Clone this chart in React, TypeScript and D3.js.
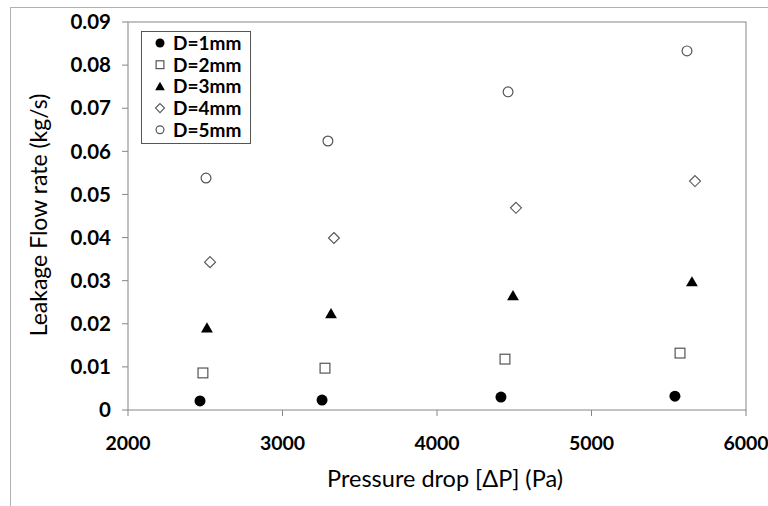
import React from "react";
import * as d3 from "d3";

const seriesNames = ["D=1mm", "D=2mm", "D=3mm", "D=4mm", "D=5mm"];
const pressureD1 = [2466, 3256, 4414, 5540];
const flowD1 = [0.0021, 0.0023, 0.003, 0.0032];
const pressureD2 = [2485, 3275, 4440, 5573];
const flowD2 = [0.0086, 0.0097, 0.0118, 0.0132];
const pressureD3 = [2511, 3314, 4492, 5650];
const flowD3 = [0.019, 0.0223, 0.0265, 0.0297];
const pressureD4 = [2531, 3333, 4511, 5670];
const flowD4 = [0.0343, 0.0399, 0.0469, 0.0531];
const pressureD5 = [2505, 3294, 4460, 5618];
const flowD5 = [0.0538, 0.0624, 0.0738, 0.0833];
const xTicks = [2000, 3000, 4000, 5000, 6000];
const yTicks = [0, 0.01, 0.02, 0.03, 0.04, 0.05, 0.06, 0.07, 0.08, 0.09];

const W = 768;
const H = 506;
const margin = { left: 128, right: 22, top: 22, bottom: 96 };
const FONT = "Lato, 'Open Sans', sans-serif";

type Kind = "dot" | "square" | "triangle" | "diamond" | "circle";
const kinds: Kind[] = ["dot", "square", "triangle", "diamond", "circle"];

function Marker({ kind, x, y, s }: { kind: Kind; x: number; y: number; s: number }) {
  const r = s / 2;
  if (kind === "dot") return <circle cx={x} cy={y} r={r} fill="#000" />;
  if (kind === "circle")
    return <circle cx={x} cy={y} r={r - 0.6} fill="#fff" stroke="#555" strokeWidth={1.2} />;
  if (kind === "square")
    return (
      <rect x={x - r + 0.6} y={y - r + 0.6} width={s - 1.2} height={s - 1.2} fill="#fff" stroke="#555" strokeWidth={1.2} />
    );
  if (kind === "triangle") {
    const p = d3.symbol().type(d3.symbolTriangle).size(s * s * 0.5)();
    return <path d={p || ""} transform={`translate(${x},${y + 1})`} fill="#000" />;
  }
  const p = `M${x},${y - r} L${x + r},${y} L${x},${y + r} L${x - r},${y} Z`;
  return <path d={p} fill="#fff" stroke="#555" strokeWidth={1.1} />;
}

export default function App() {
  const x = d3.scaleLinear().domain([2000, 6000]).range([margin.left, W - margin.right]);
  const y = d3.scaleLinear().domain([0, 0.09]).range([H - margin.bottom, margin.top]);
  const series = [
    { px: pressureD1, fy: flowD1 },
    { px: pressureD2, fy: flowD2 },
    { px: pressureD3, fy: flowD3 },
    { px: pressureD4, fy: flowD4 },
    { px: pressureD5, fy: flowD5 },
  ];
  const x0 = x(2000);
  const x1 = x(6000);
  const y0 = y(0);
  const y1 = y(0.09);
  const axisColor = "#868686";
  return (
    <svg width={W} height={H} style={{ position: "absolute", left: 0, top: 0, background: "#fff" }}>
      <rect x={0} y={0} width={W} height={H} fill="#fff" />
      {/* outer chart border */}
      <rect x={10.5} y={7.5} width={W + 20} height={H + 20} fill="none" stroke="#b0b0b0" strokeWidth={1} />
      {/* plot area border */}
      <rect x={x0} y={y1} width={x1 - x0} height={y0 - y1} fill="none" stroke={axisColor} strokeWidth={1} />
      {/* y ticks */}
      {yTicks.map((t) => (
        <g key={"y" + t}>
          <line x1={x0 - 6} x2={x0} y1={y(t)} y2={y(t)} stroke={axisColor} />
          <text
            x={111}
            y={y(t)}
            dy="0.35em"
            textAnchor="end"
            fontFamily={FONT}
            fontWeight="bold"
            fontSize={20.5}
            fill="#000"
          >
            {t === 0 ? "0" : d3.format(".2f")(t)}
          </text>
        </g>
      ))}
      {/* x ticks */}
      {xTicks.map((t) => (
        <g key={"x" + t}>
          <line x1={x(t)} x2={x(t)} y1={y0} y2={y0 + 6} stroke={axisColor} />
          <text x={x(t)} y={450} textAnchor="middle" fontFamily={FONT} fontWeight="bold" fontSize={19.5} fill="#000">
            {t}
          </text>
        </g>
      ))}
      {/* axis titles */}
      <text x={445} y={487} textAnchor="middle" fontFamily={FONT} fontSize={23.5} fill="#000">
        Pressure drop [ΔP] (Pa)
      </text>
      <text
        transform={`translate(47,${215}) rotate(-90)`}
        textAnchor="middle"
        fontFamily={FONT}
        fontSize={23}
        fill="#000"
      >
        Leakage Flow rate (kg/s)
      </text>
      {/* data */}
      {series.map((s, i) =>
        s.px.map((p, j) => <Marker key={`${i}-${j}`} kind={kinds[i]} x={x(p)} y={y(s.fy[j])} s={11} />)
      )}
      {/* legend */}
      <rect x={141.5} y={31.5} width={109} height={112} fill="#fff" stroke="#555" strokeWidth={1} />
      {seriesNames.map((n, i) => (
        <g key={n}>
          <Marker kind={kinds[i]} x={160} y={43 + i * 21.7} s={9} />
          <text x={173} y={43 + i * 21.7} dy="0.36em" fontFamily={FONT} fontWeight="bold" fontSize={19} fill="#000">
            {n}
          </text>
        </g>
      ))}
    </svg>
  );
}
